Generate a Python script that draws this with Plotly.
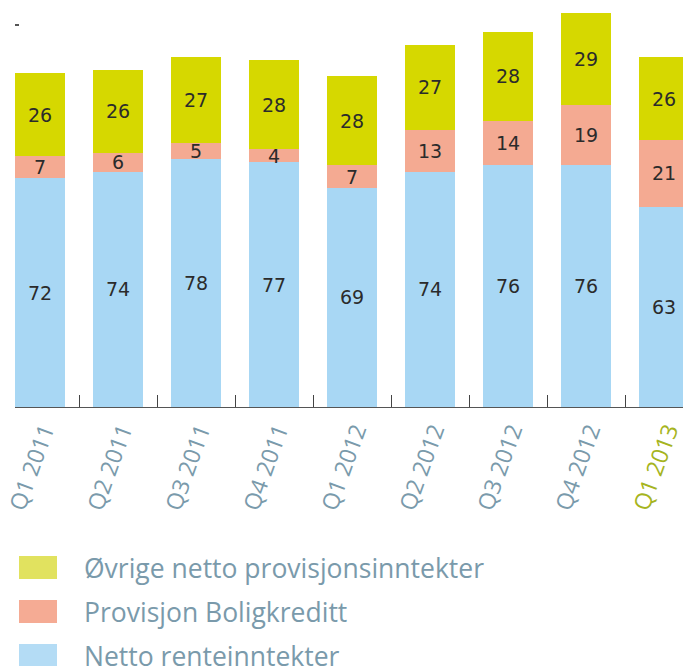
import plotly.graph_objects as go

categories = ["Q1 2011", "Q2 2011", "Q3 2011", "Q4 2011", "Q1 2012",
              "Q2 2012", "Q3 2012", "Q4 2012", "Q1 2013"]
netto_rente = [72, 74, 78, 77, 69, 74, 76, 76, 63]
provisjon_bolig = [7, 6, 5, 4, 7, 13, 14, 19, 21]
ovrige = [26, 26, 27, 28, 28, 27, 28, 29, 26]
series_names = ["Netto renteinntekter", "Provisjon Boligkreditt",
                "Øvrige netto provisjonsinntekter"]
bar_colors = ["#a8d7f4", "#f4aa92", "#d6d800"]
legend_colors = ["#b4dcf5", "#f5ab94", "#e1e25f"]
label_color = "#7a9aab"
highlight_color = "#a6b41e"

fig = go.Figure()
for name, vals, col in zip(series_names, [netto_rente, provisjon_bolig, ovrige], bar_colors):
    fig.add_trace(go.Bar(
        x=categories, y=vals, name=name, marker=dict(color=col, line=dict(width=0)),
        text=[str(v) for v in vals], textposition="inside", insidetextanchor="middle",
        textangle=0, constraintext="none",
        textfont=dict(family="DejaVu Sans", size=19, color="#2b2b2b"),
        showlegend=False, hoverinfo="skip",
    ))

ticktext = [
    f'<span style="color:{highlight_color}">{c}</span>' if i == len(categories) - 1 else c
    for i, c in enumerate(categories)
]

# page body has an 8px offset; plot area should span x 15..691, y 0..407 on the page
fig_w, fig_h = 683, 658
ml, mt, mb = 7, 0, 259
plot_w = fig_w - ml
plot_h = fig_h - mt - mb

fig.update_layout(
    width=fig_w, height=fig_h,
    margin=dict(l=ml, r=0, t=mt, b=mb, autoexpand=False),
    barmode="stack", bargap=0.36,
    plot_bgcolor="white", paper_bgcolor="white",
    xaxis=dict(
        type="category", range=[-0.321, 8.346], automargin=False,
        tickmode="array", tickvals=categories, ticktext=ticktext,
        tickson="boundaries", ticks="inside", ticklen=12, tickcolor="#444444", tickwidth=1,
        tickangle=-70, ticklabelshift=4,
        tickfont=dict(family="Open Sans", size=23, color=label_color),
        showline=True, linecolor="#555555", linewidth=1, showgrid=False,
    ),
    yaxis=dict(
        range=[0, 125.5], showgrid=False, zeroline=False, showline=False, automargin=False,
        tickmode="array", tickvals=[120], ticks="inside", ticklen=4,
        tickcolor="#555555", tickwidth=2, showticklabels=False,
    ),
)

# custom legend (order top to bottom as in reference); positions in page pixels
def px_x(xp):
    return (xp - 8 - ml) / plot_w

def px_y(yp):
    return (8 + mt + plot_h - yp) / plot_h

legend_rows = [(2, 556), (1, 600), (0, 644)]
for idx, ytop in legend_rows:
    fig.add_shape(type="rect", xref="paper", yref="paper",
                  x0=px_x(19), x1=px_x(57), y0=px_y(ytop + 23), y1=px_y(ytop),
                  fillcolor=legend_colors[idx], line=dict(width=0))
    fig.add_annotation(xref="paper", yref="paper", x=px_x(82),
                       y=px_y(ytop + 12), xanchor="left", yanchor="middle",
                       text=series_names[idx], showarrow=False,
                       font=dict(family="Open Sans", size=26.5, color=label_color))

fig.write_html("out.html")
